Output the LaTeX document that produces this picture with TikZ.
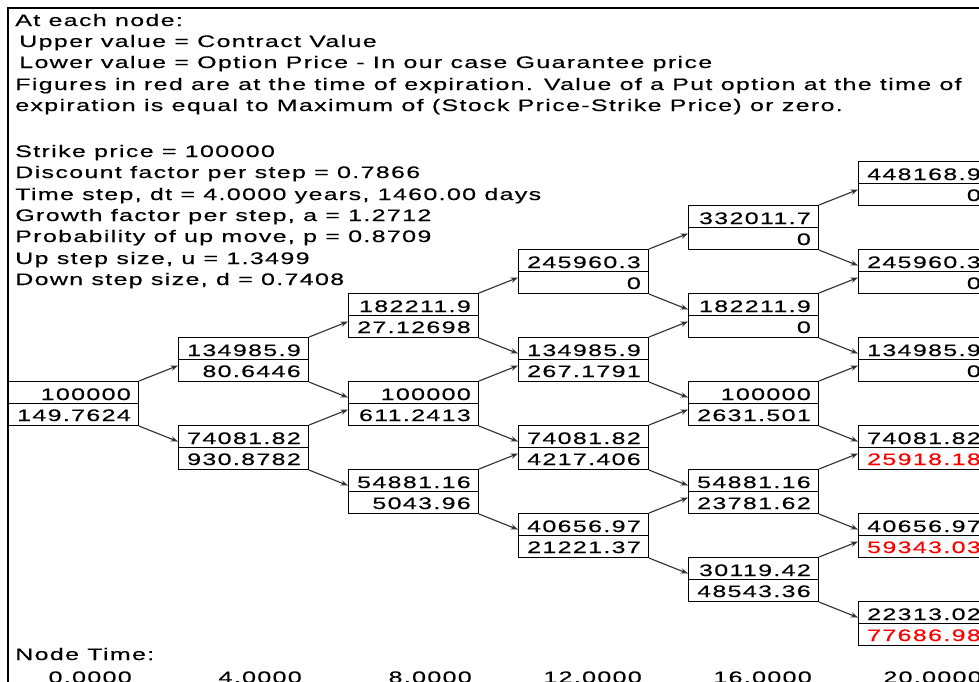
\documentclass[tikz,border=0pt]{standalone}
\usepackage{fontspec}
\setmainfont{Liberation Sans}[FakeStretch=1.5,LetterSpace=8,FakeBold=0.3]
\usetikzlibrary{arrows.meta,calc}
\definecolor{arrowgray}{RGB}{50,50,50}
\definecolor{expred}{RGB}{255,0,0}
\tikzset{
  txt/.style={font=\fontsize{12.5pt}{15pt}\selectfont, inner sep=0pt, text=black},
  headline/.style={txt, anchor=base west},
  valtext/.style={txt, anchor=base east},
  cellbox/.style={draw=black, line width=0.8pt, minimum width=97.5pt, minimum height=33pt, inner sep=0pt, anchor=north west},
  midline/.style={draw=black, line width=0.8pt},
  conn/.style={draw=arrowgray, line width=0.85pt, -{Stealth[length=5.5pt,width=4pt]}},
  frame/.style={draw=black, line width=1.8pt}
}
\newcommand{\bcell}[6]{%
  \node[cellbox] (#1) at ({8+170*#2},{381-44*(#2-2*#3)}) {};
  \draw[midline] (#1.west) -- (#1.east);
  \node[valtext] (#1u) at ($(#1.north east)+(-8,19)$) {#4};
  \node[valtext,text=#6] (#1l) at ($(#1.north east)+(-8,40)$) {#5};
}
\newcommand{\upconn}[2]{\draw[conn] (#1.north east) -- ($(#2.west)+(0,6)$);}
\newcommand{\downconn}[2]{\draw[conn] (#1.south east) -- ($(#2.west)+(0,-6)$);}
\begin{document}
\begin{tikzpicture}[x=0.75pt,y=-0.75pt]
\useasboundingbox (0,0) rectangle (979,682);
\clip (0,0) rectangle (979,682);
\fill[white] (0,0) rectangle (979,682);
% frame
\draw[frame] (8,684) -- (8,8) -- (981,8);
% header text
\node[headline] (h1) at (15,26) {At each node:};
\node[headline] (h2) at (19,47) {Upper value = Contract Value};
\node[headline] (h3) at (19,68) {Lower value = Option Price - In our case Guarantee price};
\node[headline] (h4) at (15,90) {Figures in red are at the time of expiration. Value of a Put option at the time of};
\node[headline] (h5) at (15,111) {expiration is equal to Maximum of (Stock Price-Strike Price) or zero.};
\node[headline] (p1) at (15,157) {Strike price = 100000};
\node[headline] (p2) at (15,178) {Discount factor per step = 0.7866};
\node[headline] (p3) at (15,200) {Time step, dt = 4.0000 years, 1460.00 days};
\node[headline] (p4) at (15,221) {Growth factor per step, a = 1.2712};
\node[headline] (p5) at (15,242) {Probability of up move, p = 0.8709};
\node[headline] (p6) at (15,264) {Up step size, u = 1.3499};
\node[headline] (p7) at (15,285) {Down step size, d = 0.7408};
% tree cells
\bcell{a0}{0}{0}{100000}{149.7624}{black}
\bcell{b0}{1}{0}{134985.9}{80.6446}{black}
\bcell{b1}{1}{1}{74081.82}{930.8782}{black}
\bcell{c0}{2}{0}{182211.9}{27.12698}{black}
\bcell{c1}{2}{1}{100000}{611.2413}{black}
\bcell{c2}{2}{2}{54881.16}{5043.96}{black}
\bcell{d0}{3}{0}{245960.3}{0}{black}
\bcell{d1}{3}{1}{134985.9}{267.1791}{black}
\bcell{d2}{3}{2}{74081.82}{4217.406}{black}
\bcell{d3}{3}{3}{40656.97}{21221.37}{black}
\bcell{e0}{4}{0}{332011.7}{0}{black}
\bcell{e1}{4}{1}{182211.9}{0}{black}
\bcell{e2}{4}{2}{100000}{2631.501}{black}
\bcell{e3}{4}{3}{54881.16}{23781.62}{black}
\bcell{e4}{4}{4}{30119.42}{48543.36}{black}
\bcell{f0}{5}{0}{448168.9}{0}{black}
\bcell{f1}{5}{1}{245960.3}{0}{black}
\bcell{f2}{5}{2}{134985.9}{0}{black}
\bcell{f3}{5}{3}{74081.82}{25918.18}{expred}
\bcell{f4}{5}{4}{40656.97}{59343.03}{expred}
\bcell{f5}{5}{5}{22313.02}{77686.98}{expred}
% connectors
\upconn{a0}{b0} \downconn{a0}{b1}
\upconn{b0}{c0} \downconn{b0}{c1}
\upconn{b1}{c1} \downconn{b1}{c2}
\upconn{c0}{d0} \downconn{c0}{d1}
\upconn{c1}{d1} \downconn{c1}{d2}
\upconn{c2}{d2} \downconn{c2}{d3}
\upconn{d0}{e0} \downconn{d0}{e1}
\upconn{d1}{e1} \downconn{d1}{e2}
\upconn{d2}{e2} \downconn{d2}{e3}
\upconn{d3}{e3} \downconn{d3}{e4}
\upconn{e0}{f0} \downconn{e0}{f1}
\upconn{e1}{f1} \downconn{e1}{f2}
\upconn{e2}{f2} \downconn{e2}{f3}
\upconn{e3}{f3} \downconn{e3}{f4}
\upconn{e4}{f4} \downconn{e4}{f5}
% node time row
\node[headline] (nt) at (15,660) {Node Time:};
\node[valtext] (t0) at (132,683) {0.0000};
\node[valtext] (t1) at (302,683) {4.0000};
\node[valtext] (t2) at (472,683) {8.0000};
\node[valtext] (t3) at (642,683) {12.0000};
\node[valtext] (t4) at (812,683) {16.0000};
\node[valtext] (t5) at (982,683) {20.0000};
\end{tikzpicture}
\end{document}
